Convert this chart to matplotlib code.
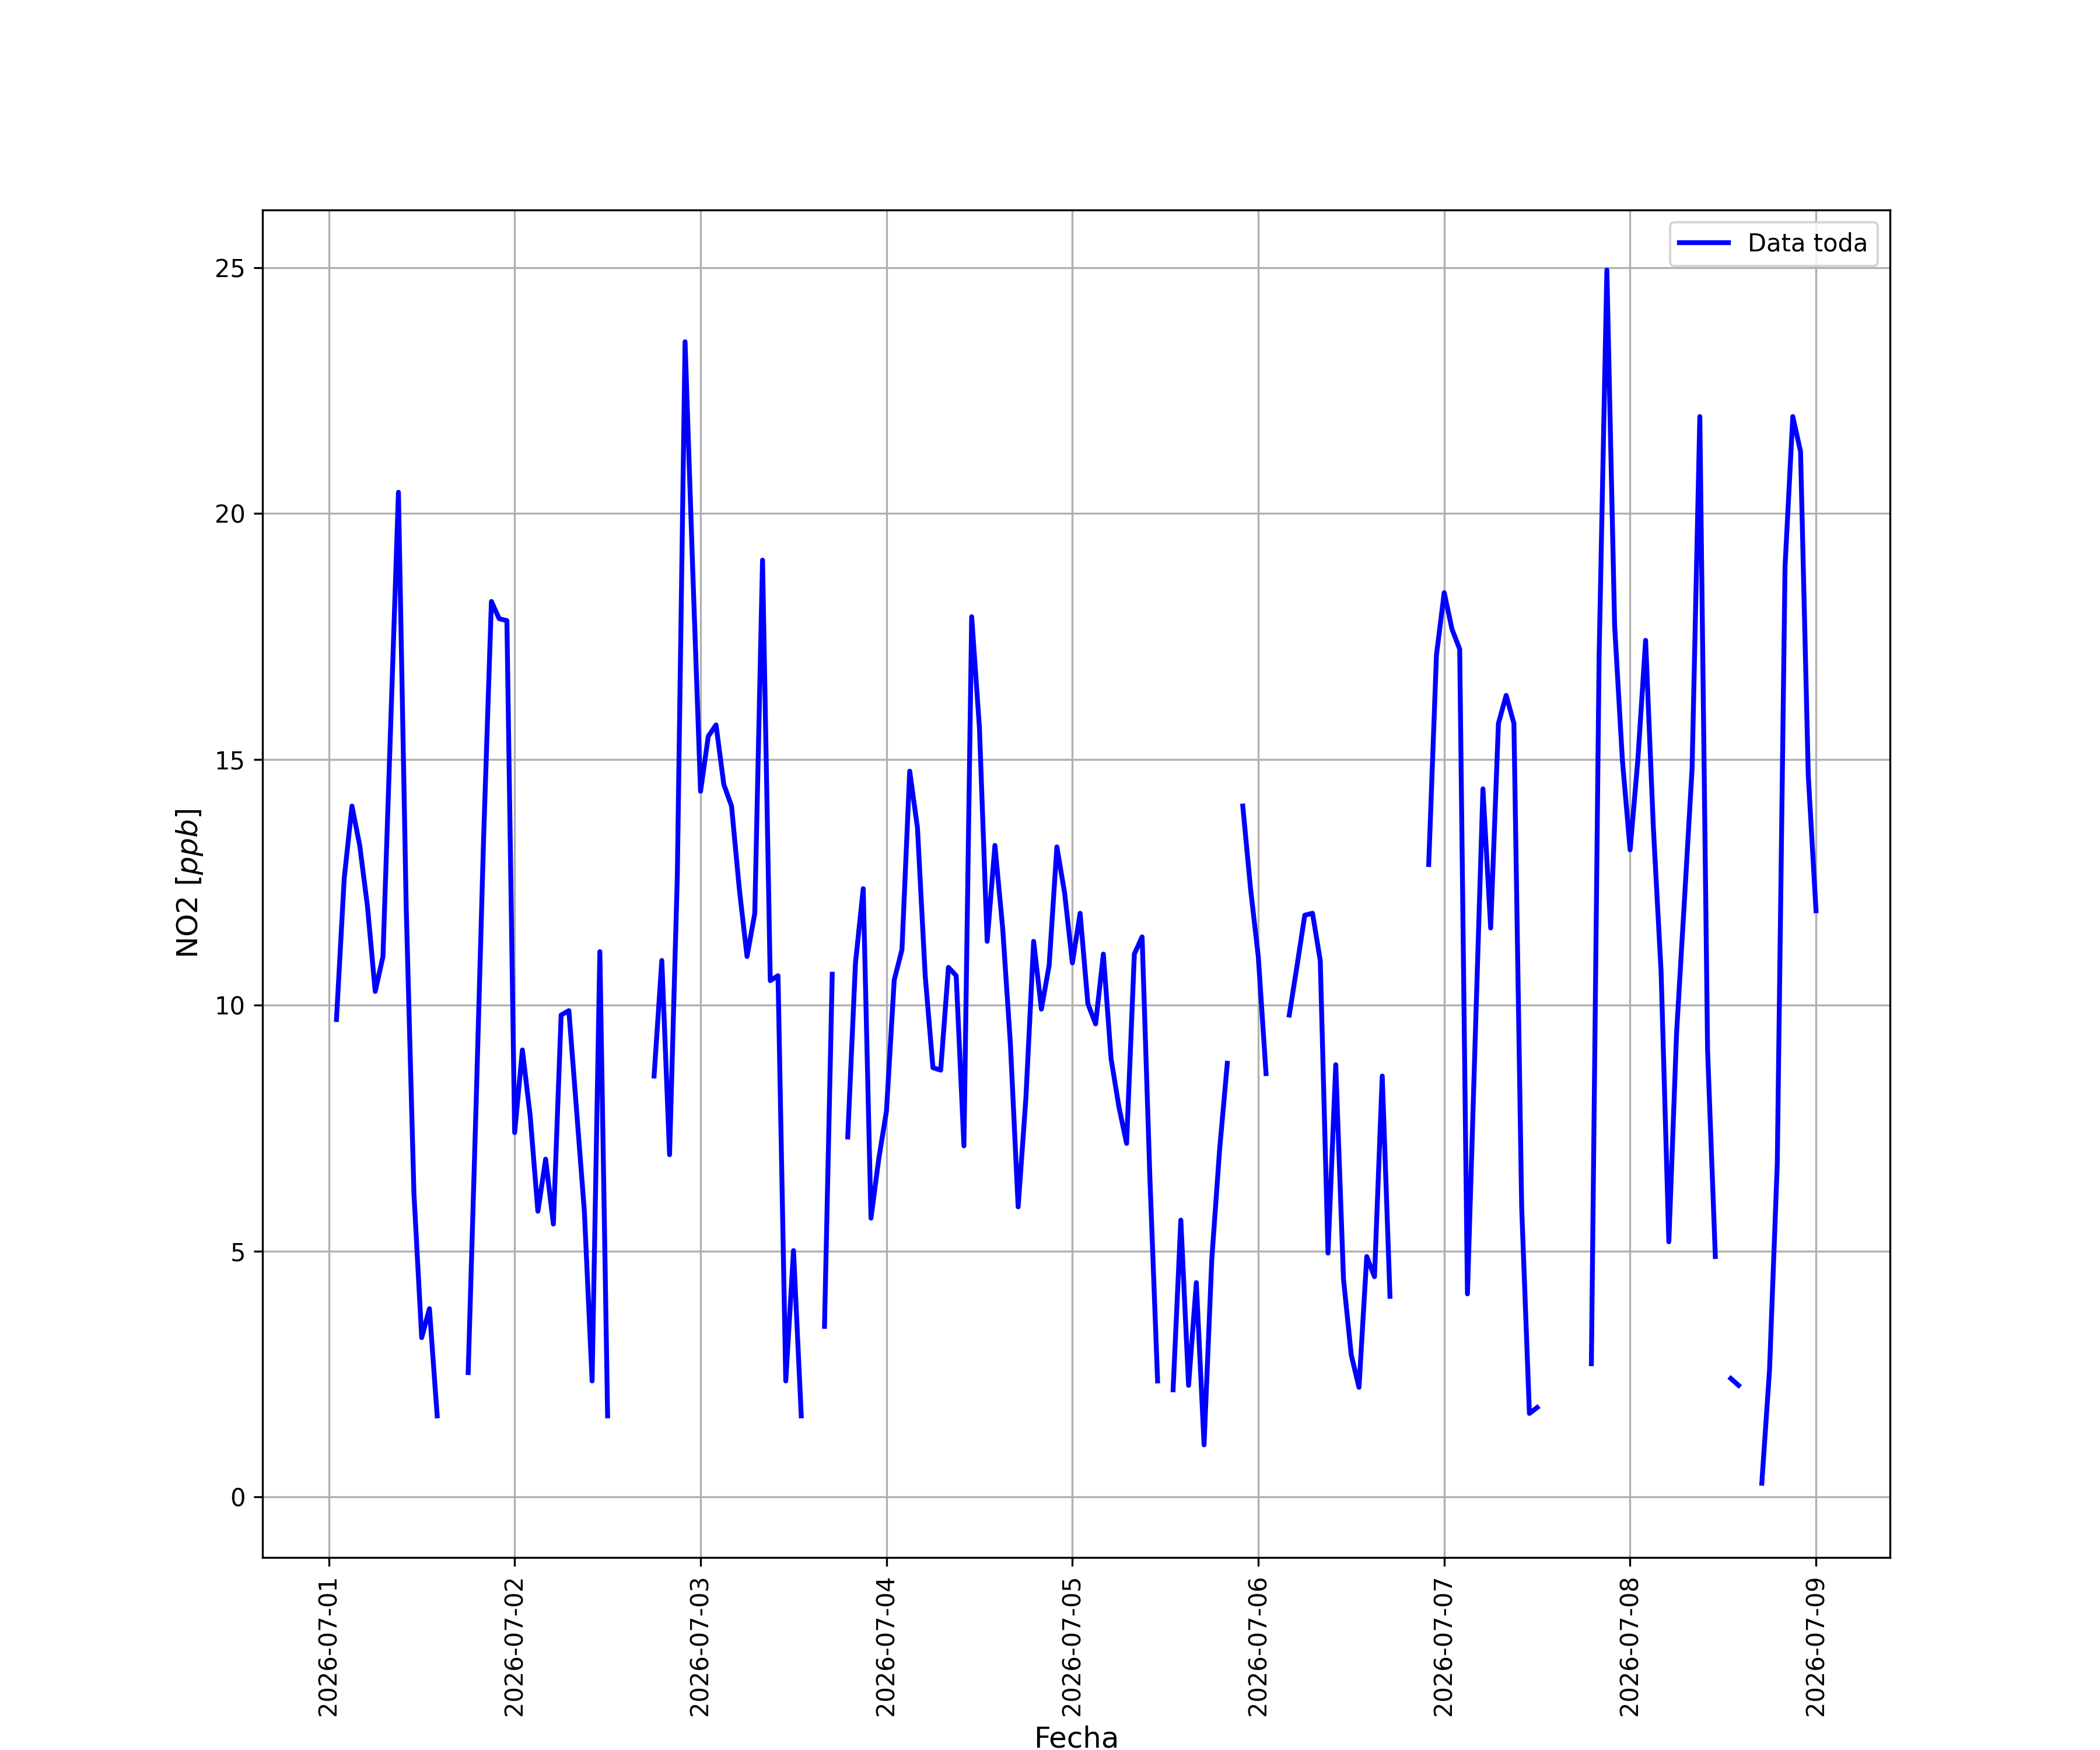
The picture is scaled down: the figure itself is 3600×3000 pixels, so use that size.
import numpy as np
import pandas as pd
import matplotlib
matplotlib.use("Agg")
import matplotlib.pyplot as plt
import matplotlib.dates as mdates

nan = np.nan

# hourly NO2 readings (ppb), gaps are missing hours
dia1 = [9.71, 12.58, 14.05, 13.25, 12.01, 10.28, 10.99, 15.7, 20.43, 12.0, 6.17, 3.24,
        3.83, 1.65, nan, nan, nan, 2.53, 7.85, 13.43, 18.21, 17.86, 17.82]  # desde 01:00
dia2 = [7.41, 9.09, 7.76, 5.81, 6.87, 5.55, 9.80, 9.89, 7.85, 5.81, 2.36, 11.09,
        1.65, nan, nan, nan, nan, nan, 8.56, 10.91, 6.96, 12.63, 23.49, 18.8]
dia3 = [14.35, 15.47, 15.70, 14.49, 14.05, 12.37, 10.99, 11.87, 19.05, 10.5, 10.6, 2.36,
        5.01, 1.65, nan, nan, 3.47, 10.63, nan, 7.32, 10.86, 12.37, 5.67, 6.87]
dia4 = [7.85, 10.51, 11.13, 14.76, 13.61, 10.60, 8.73, 8.68, 10.77, 10.60, 7.14, 17.90,
        15.65, 11.30, 13.25, 11.57, 9.21, 5.90, 8.11, 11.30, 9.92, 10.81, 13.22, 12.28]
dia5 = [10.86, 11.87, 10.03, 9.62, 11.04, 8.91, 7.94, 7.19, 11.04, 11.39, 6.52, 2.36,
        nan, 2.18, 5.63, 2.27, 4.36, 1.06, 4.84, 7.05, 8.82, nan, 14.05, 12.37]
dia6 = [10.99, 8.61, nan, nan, 9.80, 10.8, 11.83, 11.87, 10.91, 4.96, 8.79, 4.43,
        2.89, 2.23, 4.89, 4.48, 8.56, 4.08, nan, nan, nan, nan, 12.86, 17.12]
dia7 = [18.39, 17.65, 17.24, 4.13, 9.3, 14.40, 11.57, 15.73, 16.30, 15.73, 5.90, 1.70,
        1.82, nan, nan, nan, nan, nan, nan, 2.71, 17.12, 24.95, 17.72, 14.99]
dia8 = [13.16, 14.99, 17.42, 13.61, 10.68, 5.19, 9.44, 12.1, 14.81, 21.97, 9.09, 4.89,
        nan, 2.41, 2.27, nan, nan, 0.28, 2.59, 6.79, 18.92, 21.97, 21.26, 14.67]
dia9 = [11.92]

no2 = dia1 + dia2 + dia3 + dia4 + dia5 + dia6 + dia7 + dia8 + dia9
fechas = pd.date_range("2026-07-01 01:00", periods=len(no2), freq="h")

fig = plt.figure(figsize=(12, 10), dpi=300)
ax = fig.add_subplot(111)

ax.plot(fechas, no2, 'b', linewidth=2, label="Data toda")

ax.xaxis.set_major_locator(mdates.DayLocator())
ax.xaxis.set_major_formatter(mdates.DateFormatter('%Y-%m-%d'))
plt.xticks(rotation=90)

ax.set_ylim(-1.23, 26.17)
ax.grid(True)

ax.set_xlabel('Fecha', fontsize=12)
ax.set_ylabel('NO2 $[ppb]$', fontsize=12)
ax.legend(loc='upper right')

plt.savefig('out.png', dpi=300)
